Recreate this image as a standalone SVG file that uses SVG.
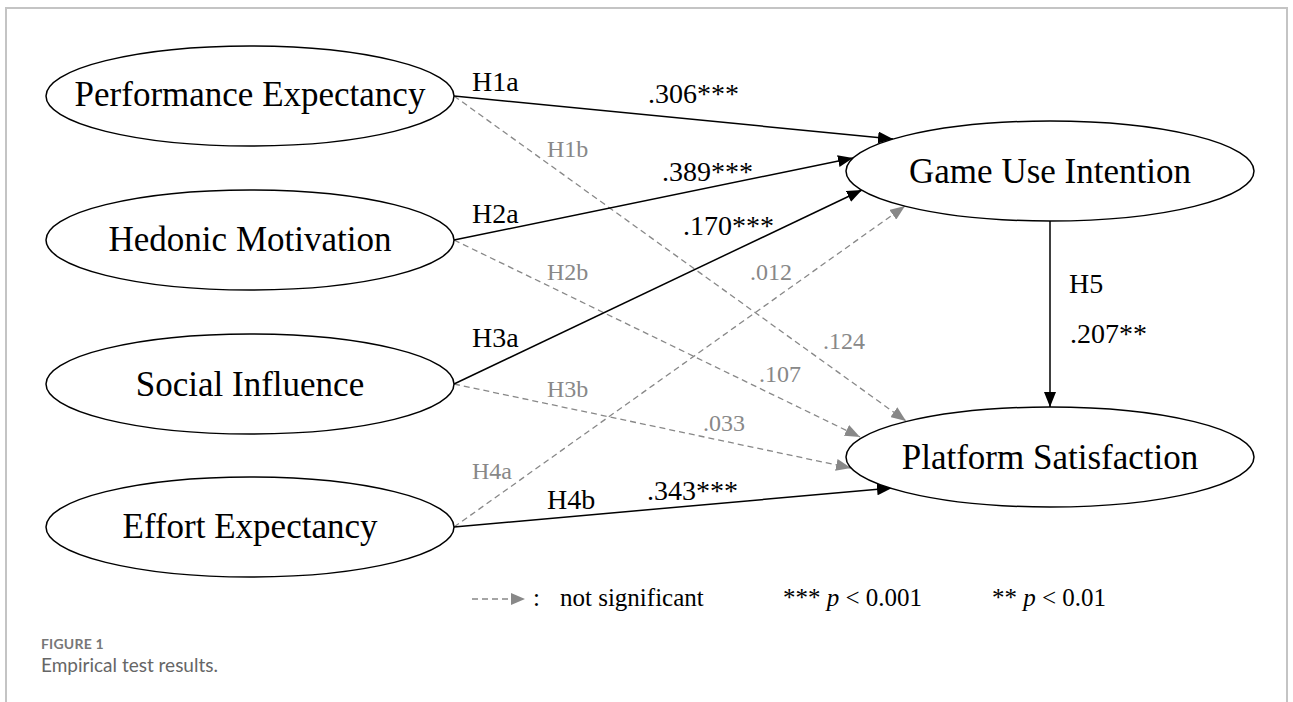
<svg xmlns="http://www.w3.org/2000/svg" width="1293" height="702" viewBox="0 0 1293 702">
<style>
.node{fill:#fff;stroke:#000;stroke-width:1.5}
.nlabel{font-family:"Liberation Serif","Times New Roman",serif;font-size:35px;fill:#000;text-anchor:middle}
.sig{stroke:#000;stroke-width:1.5;fill:none}
.ns{stroke:#888;stroke-width:1.3;fill:none;stroke-dasharray:6 4}
.lb{font-family:"Liberation Serif","Times New Roman",serif;font-size:28px;fill:#000}
.lg{font-family:"Liberation Serif","Times New Roman",serif;font-size:24px;fill:#888}
.leg{font-family:"Liberation Serif","Times New Roman",serif;font-size:25px;fill:#000}
</style>
<defs>
<marker id="ab" markerUnits="userSpaceOnUse" markerWidth="16" markerHeight="12" refX="15" refY="6" orient="auto"><path d="M0,0 L15,6 L0,12 z" fill="#000"/></marker>
<marker id="ag" markerUnits="userSpaceOnUse" markerWidth="16" markerHeight="12" refX="15" refY="6" orient="auto"><path d="M0,0 L15,6 L0,12 z" fill="#888"/></marker>
</defs>
<rect width="1293" height="702" fill="#fff"/>
<path d="M6,702 L6,8 L1287,8 L1287,702" fill="none" stroke="#c4c4c4" stroke-width="2"/>

<g id="connectors">
<line class="ns" x1="454" y1="96" x2="906" y2="421" marker-end="url(#ag)"/>
<line class="ns" x1="454" y1="240" x2="860" y2="437" marker-end="url(#ag)"/>
<line class="ns" x1="454" y1="384" x2="851" y2="468" marker-end="url(#ag)"/>
<line class="ns" x1="454" y1="527" x2="905" y2="206" marker-end="url(#ag)"/>
<line class="sig" x1="454" y1="96" x2="893" y2="139" marker-end="url(#ab)"/>
<line class="sig" x1="454" y1="240" x2="853" y2="158" marker-end="url(#ab)"/>
<line class="sig" x1="454" y1="384" x2="862" y2="190" marker-end="url(#ab)"/>
<line class="sig" x1="454" y1="527" x2="892" y2="488" marker-end="url(#ab)"/>
<line class="sig" x1="1050" y1="221" x2="1050" y2="407" marker-end="url(#ab)"/>
</g>

<g id="node-pe"><ellipse class="node" cx="250" cy="96" rx="204" ry="50"/><text class="nlabel" x="250" y="106">Performance Expectancy</text></g>
<g id="node-hm"><ellipse class="node" cx="250" cy="240" rx="204" ry="50"/><text class="nlabel" x="250" y="251">Hedonic Motivation</text></g>
<g id="node-si"><ellipse class="node" cx="250" cy="384" rx="204" ry="50"/><text class="nlabel" x="250" y="396">Social Influence</text></g>
<g id="node-ee"><ellipse class="node" cx="250" cy="527" rx="204" ry="50"/><text class="nlabel" x="250" y="538">Effort Expectancy</text></g>
<g id="node-gui"><ellipse class="node" cx="1050" cy="171" rx="204" ry="50"/><text class="nlabel" x="1050" y="183">Game Use Intention</text></g>
<g id="node-ps"><ellipse class="node" cx="1050" cy="457" rx="204" ry="50"/><text class="nlabel" x="1050" y="469">Platform Satisfaction</text></g>

<g id="edge-labels">
<text class="lb" x="472" y="91">H1a</text>
<text class="lb" x="648" y="103">.306***</text>
<text class="lg" x="547" y="157">H1b</text>
<text class="lb" x="662" y="181">.389***</text>
<text class="lb" x="472" y="223">H2a</text>
<text class="lb" x="683" y="235">.170***</text>
<text class="lg" x="547" y="280">H2b</text>
<text class="lg" x="750" y="280">.012</text>
<text class="lb" x="472" y="347">H3a</text>
<text class="lg" x="823" y="349">.124</text>
<text class="lg" x="759" y="382">.107</text>
<text class="lg" x="547" y="397">H3b</text>
<text class="lg" x="703" y="431">.033</text>
<text class="lg" x="472" y="479">H4a</text>
<text class="lb" x="547" y="509">H4b</text>
<text class="lb" x="647" y="500">.343***</text>
<text class="lb" x="1069" y="293">H5</text>
<text class="lb" x="1070" y="343">.207**</text>
</g>

<g id="legend">
<line class="ns" x1="472" y1="599" x2="512" y2="599" stroke-dasharray="4 3"/>
<path d="M511,593 L525,599 L511,605 z" fill="#888"/>
<text class="leg" x="533" y="606">:</text>
<text class="leg" x="560" y="606">not significant</text>
<text class="leg" x="783" y="606">*** <tspan font-style="italic">p</tspan> &lt; 0.001</text>
<text class="leg" x="992" y="606">** <tspan font-style="italic">p</tspan> &lt; 0.01</text>
</g>

<g id="caption">
<text x="41" y="649" font-family="Lato,'Open Sans',sans-serif" font-size="14" font-weight="700" fill="#777" letter-spacing="0.2">FIGURE 1</text>
<text x="41" y="672" font-family="Lato,'Open Sans',sans-serif" font-size="19" fill="#666">Empirical test results.</text>
</g>
</svg>
